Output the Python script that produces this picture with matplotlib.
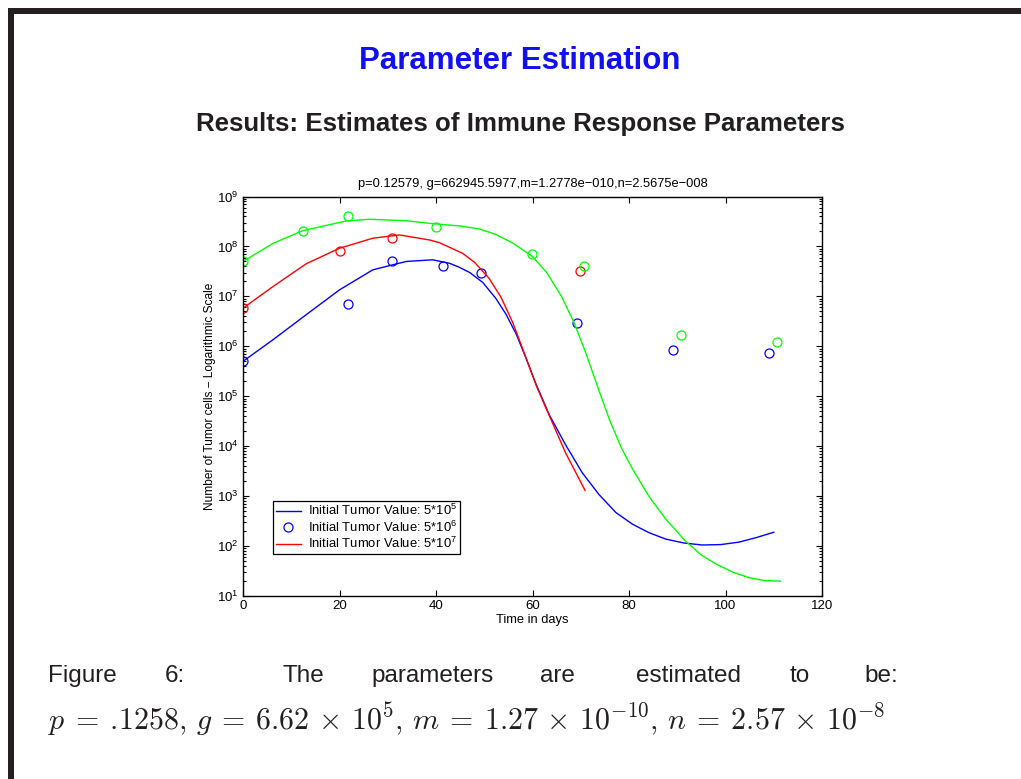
import numpy as np
import matplotlib
matplotlib.use("Agg")
import matplotlib.pyplot as plt
from matplotlib.patches import Rectangle
from matplotlib.ticker import LogLocator, FixedLocator

plt.rcParams['font.family'] = ['Liberation Sans', 'DejaVu Sans']
plt.rcParams['mathtext.fontset'] = 'custom'
plt.rcParams['mathtext.rm'] = 'Liberation Sans'
plt.rcParams['mathtext.it'] = 'Liberation Sans:italic'

# fitted model curves (time in days, tumor cells)
blue_t = [0, 6.2, 13.1, 20, 26.9, 33.8, 39.3, 42.8, 44.8, 47, 49.7, 52.4, 54.5, 56.6, 58.6, 60.7,
          63.5, 66.9, 70.3, 73.8, 77.3, 80.7, 84.1, 87.6, 91.4, 95.2, 99, 102.8, 106.4, 110]
blue_v = [5.0e5, 1.35e6, 4.3e6, 1.35e7, 3.4e7, 5.0e7, 5.4e7, 4.6e7, 3.84e7, 3.0e7, 1.9e7, 9.1e6, 4.4e6, 1.78e6, 6.0e5, 1.78e5,
          4.2e4, 1.05e4, 2.95e3, 1.07e3, 468, 275, 186, 138, 115, 105, 107, 120, 148, 189]

red_t = [0, 6.2, 13.1, 20, 26.9, 32.4, 38.6, 40.7, 45.5, 48, 51, 53.5, 55.9, 58, 60, 61, 63.9, 66.9, 70.9]
red_v = [5.8e6, 1.57e7, 4.5e7, 9.2e7, 1.46e8, 1.7e8, 1.35e8, 1.19e8, 7.3e7, 4.8e7, 2.3e7, 9.5e6, 3.0e6, 8.7e5,
         2.6e5, 1.45e5, 3.3e4, 7.2e3, 1.3e3]

green_t = [0, 6.2, 12.4, 21.4, 26.2, 33.8, 38.6, 40.7, 45, 49, 52.4, 55.9, 60, 63, 66, 68.5, 71, 73.5,
           76, 78.5, 80.7, 84.1, 87.6, 91.7, 95, 98, 101.5, 104.8, 108, 111.4]
green_v = [5.0e7, 1.15e8, 2.07e8, 3.24e8, 3.5e8, 3.28e8, 2.9e8, 2.78e8, 2.57e8, 2.24e8, 1.74e8, 1.17e8, 6.3e7,
           2.95e7, 1.0e7, 3.16e6, 7.6e5, 1.55e5, 3.3e4, 8.9e3, 3.55e3, 1.0e3, 347, 126, 66, 44, 30, 23.4, 20.4, 19.8]

# measured data
blue_dt = [0, 21.7, 30.8, 41.5, 49.3, 69.2, 89.1, 109.0]
blue_dv = [5.0e5, 7.1e6, 5.0e7, 4.1e7, 2.9e7, 2.9e6, 8.4e5, 7.2e5]
red_dt = [0, 20, 30.8, 69.9]
red_dv = [5.8e6, 8.2e7, 1.5e8, 3.2e7]
green_dt = [0, 12.4, 21.7, 40.0, 59.9, 70.7, 90.7, 110.6]
green_dv = [5.0e7, 2.0e8, 4.1e8, 2.4e8, 7.1e7, 4.1e7, 1.7e6, 1.2e6]

legend_labels = [r'Initial Tumor Value: 5*10$^{\mathregular{5}}$',
                 r'Initial Tumor Value: 5*10$^{\mathregular{6}}$',
                 r'Initial Tumor Value: 5*10$^{\mathregular{7}}$']
xticks = [0, 20, 40, 60, 80, 100, 120]

fig = plt.figure(figsize=(10.21, 7.79), dpi=100)
W, H = 1021, 779

# slide border
fig.add_artist(Rectangle((8 / W, 1 - 14 / H), 1, 6 / H, transform=fig.transFigure,
                         color='#231f20', lw=0))
fig.add_artist(Rectangle((8 / W, 0), 6 / W, 1 - 8 / H, transform=fig.transFigure,
                         color='#231f20', lw=0))

fig.text(520 / W, 1 - 61 / H, 'Parameter Estimation', ha='center', va='center',
         fontsize=22.5, fontweight='bold', color='#1010f0')
fig.text(520 / W, 1 - 124 / H, 'Results: Estimates of Immune Response Parameters',
         ha='center', va='center', fontsize=18.6, fontweight='bold', color='#231f20')

ax = fig.add_axes([243 / W, 1 - 596 / H, 579 / W, 399.5 / H])
l1, = ax.plot(blue_t, blue_v, color=(0, 0, 1), lw=1.0)
m1, = ax.plot(blue_dt, blue_dv, 'o', mfc='none', mec=(0, 0, 1), ms=6.5, mew=0.9)
l2, = ax.plot(red_t, red_v, color=(1, 0, 0), lw=1.0)
ax.plot(red_dt, red_dv, 'o', mfc='none', mec=(1, 0, 0), ms=6.5, mew=0.9)
ax.plot(green_t, green_v, color=(0, 1, 0), lw=1.0)
ax.plot(green_dt, green_dv, 'o', mfc='none', mec=(0, 1, 0), ms=6.5, mew=0.9)

ax.set_yscale('log')
ax.set_xlim(0, 120)
ax.set_ylim(10, 1e9)
ax.xaxis.set_major_locator(FixedLocator(xticks))
ax.yaxis.set_major_locator(LogLocator(base=10, numticks=20))
ax.yaxis.set_minor_locator(LogLocator(base=10, subs=np.arange(2, 10), numticks=20))
ax.tick_params(which='both', direction='in', top=True, right=True, labelsize=9.5, width=0.8)
ax.tick_params(which='major', length=4.5, pad=3)
ax.tick_params(which='minor', length=2.5)
for s in ax.spines.values():
    s.set_linewidth(1.0)

ax.set_title('p=0.12579, g=662945.5977,m=1.2778e\u2212010,n=2.5675e\u2212008', fontsize=9.3, pad=7)
ax.set_xlabel('Time in days', fontsize=9.3, labelpad=1)
ax.set_ylabel('Number of Tumor cells \u2212 Logarithmic Scale', fontsize=8.6, labelpad=1)

leg = ax.legend([l1, m1, l2], legend_labels, loc='lower left', bbox_to_anchor=(0.052, 0.105),
                fontsize=9.4, frameon=True, fancybox=False, framealpha=1, edgecolor='black',
                handlelength=1.9, handletextpad=0.6, labelspacing=0.1, borderpad=0.2,
                borderaxespad=0)
leg.get_frame().set_linewidth(0.9)

# caption, spread over the line like the justified slide text
words = ['Figure', '6:', 'The', 'parameters', 'are', 'estimated', 'to', 'be:']
word_x = [48, 165, 282, 371, 540, 636, 790, 864]
for wd, x in zip(words, word_x):
    fig.text(x / W, 1 - 676 / H, wd, ha='left', va='center', fontsize=17.5, color='#231f20')
fig.text(48 / W, 1 - 719 / H,
         r'$p\:=\:.\!1258,\,g\:=\:6.62\,\times\,10^5,\,m\:=\:1.27\,\times\,10^{-10},'
         r'\,n\:=\:2.57\,\times\,10^{-8}$',
         ha='left', va='center', fontsize=21.5, color='#231f20', math_fontfamily='cm')

fig.savefig('out.png', dpi=100)
